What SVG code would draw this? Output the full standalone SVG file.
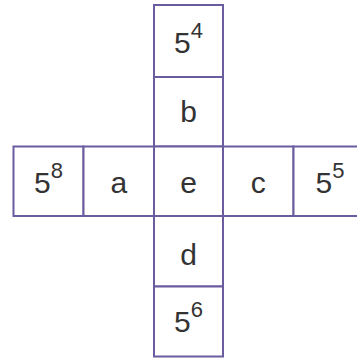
<svg xmlns="http://www.w3.org/2000/svg" width="357" height="361" viewBox="0 0 357 361">
<style>
.cell{fill:#ffffff;stroke:#6b5b9f;stroke-width:2}
.t{font-family:"Liberation Sans",Arial,sans-serif;font-size:30px;fill:#333333;text-anchor:middle}
.sup{font-size:22px}
</style>
<rect width="357" height="361" fill="#ffffff"/>
<g id="connectors"></g>
<g id="node-5pow4"><rect class="cell" x="154" y="5" width="69" height="72"/><text class="t" x="188.5" y="53">5<tspan class="sup" dy="-15">4</tspan></text></g>
<g id="node-b"><rect class="cell" x="154" y="77" width="69" height="69.5"/><text class="t" x="188.5" y="121.5">b</text></g>
<g id="node-5pow8"><rect class="cell" x="13.5" y="146.5" width="70" height="69.5"/><text class="t" x="48.5" y="193">5<tspan class="sup" dy="-15">8</tspan></text></g>
<g id="node-a"><rect class="cell" x="83.5" y="146.5" width="70.5" height="69.5"/><text class="t" x="118.8" y="193">a</text></g>
<g id="node-e"><rect class="cell" x="154" y="146.5" width="69" height="69.5"/><text class="t" x="188.5" y="193">e</text></g>
<g id="node-c"><rect class="cell" x="223" y="146.5" width="70.5" height="69.5"/><text class="t" x="258.3" y="193">c</text></g>
<g id="node-5pow5"><rect class="cell" x="293.5" y="146.5" width="70.5" height="69.5"/><text class="t" x="330" y="193">5<tspan class="sup" dy="-15">5</tspan></text></g>
<g id="node-d"><rect class="cell" x="154" y="216" width="69" height="70.5"/><text class="t" x="188.5" y="265">d</text></g>
<g id="node-5pow6"><rect class="cell" x="154" y="286.5" width="69" height="70"/><text class="t" x="188.5" y="331.5">5<tspan class="sup" dy="-15">6</tspan></text></g>
</svg>
